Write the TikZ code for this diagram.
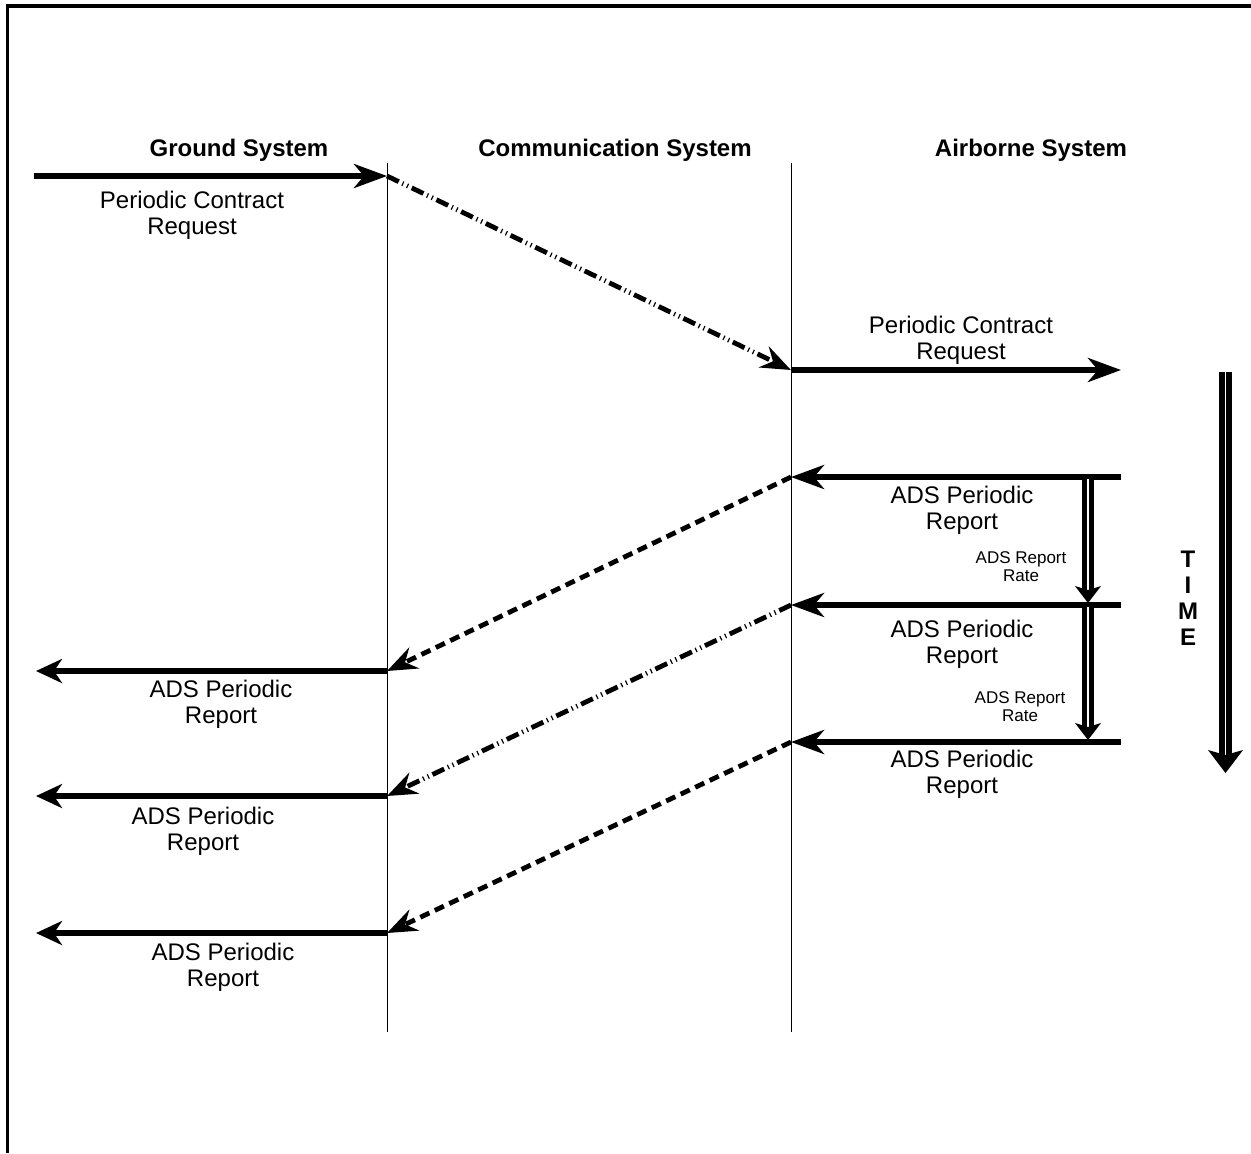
\documentclass[tikz,border=0pt]{standalone}
\usepackage{fontspec}
\setmainfont{Liberation Sans}
\usetikzlibrary{arrows.meta}
\begin{document}
\begin{tikzpicture}[x=0.5pt,y=-0.5pt,
  frame/.style={line width=1.75pt,line join=miter},
  lifeline/.style={line width=0.5pt},
  msg/.style={line width=2.75pt,-{Stealth[length=16.5pt,width=12pt,inset=5pt]}},
  msgshort/.style={line width=2.75pt,-{Stealth[length=13pt,width=12pt,inset=4pt]}},
  relay/.style={line width=2.4pt,dash pattern=on 5pt off 3pt,-{Stealth[length=15pt,width=11.5pt,inset=5pt]}},
  relaydd/.style={relay,dash pattern=on 6.5pt off 2pt on 0.6pt off 2pt on 0.6pt off 2pt},
  rate/.style={double,line width=2.4pt,double distance=1.35pt},
  timebar/.style={double,line width=3pt,double distance=0.7pt},
  lbl/.style={font=\fontsize{12}{13}\selectfont,align=center,inner sep=0pt,anchor=north},
  hdr/.style={lbl,font=\fontsize{12}{13}\selectfont\bfseries},
  small/.style={lbl,font=\fontsize{8.5}{9.35}\selectfont},
]
\useasboundingbox (0,0) rectangle (1251,1153);

% page frame (top and left edges only)
\draw[frame] (7.5,1153) -- (7.5,6) -- (1251,6);

% column headings
\node[hdr] (hG) at (239,139) {Ground System};
\node[hdr] (hC) at (615,139) {Communication System};
\node[hdr] (hA) at (1031,139) {Airborne System};

% lifelines
\coordinate (gTop) at (387,163);
\coordinate (gBot) at (387,1032);
\coordinate (aTop) at (791,163);
\coordinate (aBot) at (791,1032);
\draw[lifeline] (gTop) -- (gBot);
\draw[lifeline] (aTop) -- (aBot);

% contract request
\coordinate (req0) at (34,176);
\coordinate (reqG) at (387,176);
\coordinate (reqA) at (791,370);
\coordinate (reqE) at (1121,370);
\draw[msg] (req0) -- (reqG);
\draw[relaydd] (reqG) -- (reqA);
\draw[msg] (reqA) -- (reqE);
\node[lbl] (l0) at (192,191) {Periodic Contract\\Request};
\node[lbl] (l1) at (961,316) {Periodic Contract\\Request};

% periodic reports from the aircraft
\coordinate (r1e) at (1121,477);
\coordinate (r1a) at (791,477);
\coordinate (r2e) at (1121,605);
\coordinate (r2a) at (791,605);
\coordinate (r3e) at (1121,742);
\coordinate (r3a) at (791,742);
\draw[msg] (r1e) -- (r1a);
\draw[msg] (r2e) -- (r2a);
\draw[msg] (r3e) -- (r3a);
\node[lbl] (lr1) at (962,486) {ADS Periodic\\Report};
\node[lbl] (lr2) at (962,620) {ADS Periodic\\Report};
\node[lbl] (lr3) at (962,750) {ADS Periodic\\Report};

% relayed to the ground
\coordinate (g1) at (387,671);
\coordinate (g2) at (387,796);
\coordinate (g3) at (387,933);
\coordinate (g1e) at (36,671);
\coordinate (g2e) at (36,796);
\coordinate (g3e) at (36,933);
\draw[relay] (r1a) -- (g1);
\draw[relaydd] (r2a) -- (g2);
\draw[relay] (r3a) -- (g3);
\draw[msgshort] (g1) -- (g1e);
\draw[msgshort] (g2) -- (g2e);
\draw[msgshort] (g3) -- (g3e);
\node[lbl] (lg1) at (221,680) {ADS Periodic\\Report};
\node[lbl] (lg2) at (203,807) {ADS Periodic\\Report};
\node[lbl] (lg3) at (223,943) {ADS Periodic\\Report};

% report rate intervals
\coordinate (rt1s) at (1088,479);
\coordinate (rt1m) at (1088,590);
\coordinate (rt1t) at (1088,603);
\coordinate (rt2s) at (1088,607);
\coordinate (rt2m) at (1088,727);
\coordinate (rt2t) at (1088,740);
\draw[rate] (rt1s) -- (rt1m);
\fill (rt1t) -- ++(-13,-17) -- ++(13,4) -- ++(13,-4) -- cycle;
\draw[rate] (rt2s) -- (rt2m);
\fill (rt2t) -- ++(-13,-17) -- ++(13,4) -- ++(13,-4) -- cycle;
\node[small] (rr1) at (1021,551) {ADS Report\\Rate};
\node[small] (rr2) at (1020,691) {ADS Report\\Rate};

% time axis
\coordinate (tTop) at (1225.5,372);
\coordinate (tMid) at (1225.5,757);
\coordinate (tTip) at (1225.5,773);
\draw[timebar] (tTop) -- (tMid);
\fill (tTip) -- ++(-17.5,-23) -- ++(17.5,5) -- ++(17.5,-5) -- cycle;
\node[hdr] (time) at (1188,551) {T\\I\\M\\E};
\end{tikzpicture}
\end{document}
